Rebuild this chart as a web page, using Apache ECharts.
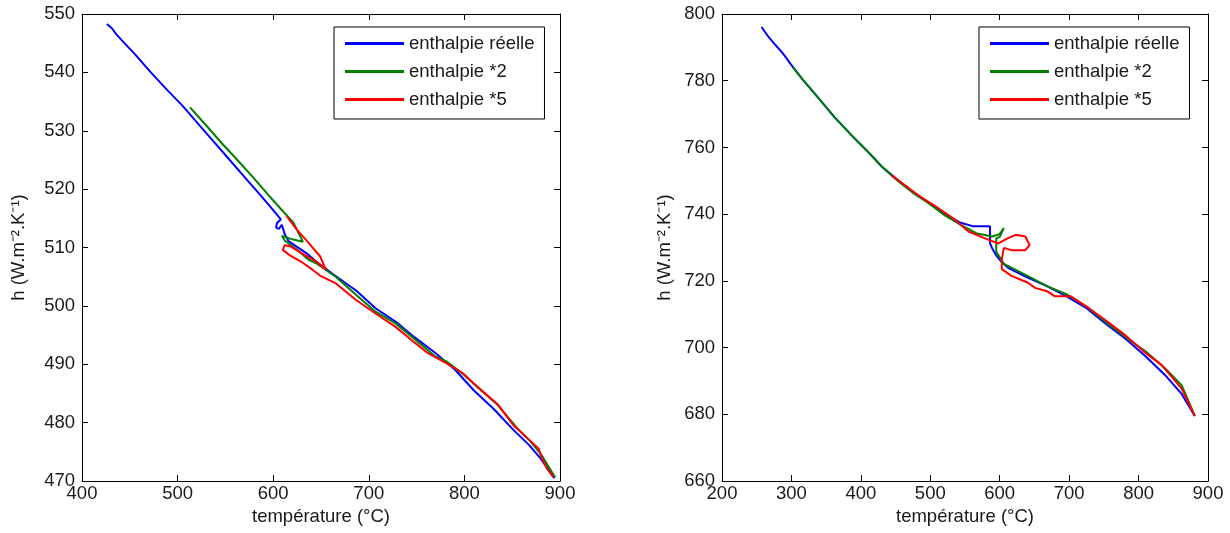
<!DOCTYPE html>
<html>
<head>
<meta charset="utf-8">
<script src="https://cdn.jsdelivr.net/npm/echarts@6/dist/echarts.min.js"></script>
<style>
html,body{margin:0;padding:0;background:#fff;}
#c{width:1230px;height:533px;}
</style>
</head>
<body>
<div id="c"></div>
<script>
// ---- data (température °C, h) ----
const seriesNames = ['enthalpie réelle', 'enthalpie *2', 'enthalpie *5'];
const xTitle = 'température (°C)';
const yTitle = 'h (W.m⁻².K⁻¹)';

// Left chart
const leftReelle = [[426,548.3],[431,547.6],[436,546.5],[441,545.6],[456,543.0],[472,540.0],[489,537.0],[505,534.3],[522,531.1],[538,528.1],[555,524.9],[571,521.9],[588,518.7],[600,516.4],[608,514.8],[604,514.2],[603,513.4],[606,513.2],[609,513.9],[612,512.3],[616,511.1],[635,509.0],[645,507.6],[662,505.5],[687,502.6],[707,499.6],[728,497.3],[748,494.6],[769,492.0],[790,489.1],[810,485.5],[831,482.3],[851,478.8],[868,476.1],[880,473.8],[894,470.5]];
const leftX2 = [[513,534.0],[530,530.9],[546,527.9],[563,524.9],[579,522.0],[596,518.8],[608,516.6],[621,514.3],[631,511.0],[620,511.4],[609,512.0],[612,511.2],[625,509.6],[637,507.9],[645,507.3],[666,504.9],[686,502.0],[707,499.0],[728,497.0],[748,494.3],[769,491.4],[781,490.5],[798,488.4],[814,486.0],[835,483.0],[855,479.1],[868,477.0],[880,474.6],[895,470.6]];
const leftX5 = [[614,515.4],[624,513.2],[637,510.8],[649,508.5],[655,506.2],[645,507.6],[630,509.0],[618,510.2],[612,510.4],[610,509.6],[618,508.6],[629,507.6],[641,506.2],[649,505.2],[666,503.8],[686,501.1],[707,498.7],[728,496.4],[748,493.7],[761,492.0],[781,490.2],[798,488.5],[814,486.1],[835,483.1],[851,479.6],[868,477.0],[878,475.5],[880,474.3],[886,472.2],[893,470.7]];

// Right chart
const rightReelle = [[257,796.1],[265,793.7],[277,790.7],[288,788.1],[299,785.0],[316,780.4],[339,774.8],[362,769.1],[385,764.0],[407,759.4],[430,754.3],[453,750.2],[475,746.6],[498,743.5],[521,739.9],[544,737.4],[561,736.4],[583,736.4],[586,736.4],[586,731.3],[589,729.8],[595,727.6],[603,725.6],[612,723.9],[640,721.0],[668,718.4],[697,715.3],[725,711.8],[753,707.1],[782,702.5],[810,697.4],[838,691.8],[862,686.1],[881,679.5]];
const rightX2 = [[302,784.0],[316,780.4],[339,774.8],[362,769.1],[385,764.0],[407,759.4],[430,754.3],[453,750.0],[475,746.4],[498,743.2],[521,739.6],[544,736.8],[566,734.3],[589,733.3],[600,734.0],[606,735.8],[600,733.2],[595,732.7],[595,728.7],[606,725.1],[640,721.5],[668,718.4],[697,715.9],[725,712.3],[753,707.6],[782,703.0],[810,698.9],[838,693.8],[862,688.7],[881,679.5]];
const rightX5 = [[444,751.7],[464,748.6],[487,745.0],[510,742.0],[532,738.9],[555,734.8],[578,732.8],[598,731.2],[612,732.8],[623,733.8],[637,733.3],[643,730.7],[637,729.2],[617,729.2],[606,729.9],[603,726.6],[603,723.5],[617,721.5],[640,719.5],[651,717.9],[668,716.9],[679,715.4],[702,715.4],[725,712.3],[753,708.1],[782,703.5],[810,698.4],[833,694.8],[850,690.7],[862,687.7],[881,679.5]];

const leftXRange = [400, 900, 100];
const leftYRange = [470, 550, 10];
const rightXRange = [200, 900, 100];
const rightYRange = [660, 800, 20];

const colors = ['#0000ff', '#008000', '#ff0000'];

// ---- chart ----
const FONT = 'Liberation Sans, Arial, sans-serif';
const FS = 18.5;
const TXT = '#1a1a1a';
const axLine = {show: true, lineStyle: {color: '#000', width: 1}};
const tick = {show: true, inside: true, length: 6, lineStyle: {color: '#000'}};

function xAxes(grid, r, nameGap) {
  return [
    {type: 'value', gridIndex: grid, position: 'bottom', min: r[0], max: r[1], interval: r[2],
     axisLine: axLine, axisTick: tick, splitLine: {show: false},
     axisLabel: {fontFamily: FONT, fontSize: FS, color: TXT, margin: 3},
     name: xTitle, nameLocation: 'middle', nameGap: nameGap,
     nameTextStyle: {fontFamily: FONT, fontSize: FS, color: TXT}},
    {type: 'value', gridIndex: grid, position: 'top', min: r[0], max: r[1], interval: r[2],
     axisLine: axLine, axisTick: tick, splitLine: {show: false}, axisLabel: {show: false}}
  ];
}
function yAxes(grid, r, nameGap) {
  return [
    {type: 'value', gridIndex: grid, position: 'left', min: r[0], max: r[1], interval: r[2],
     axisLine: axLine, axisTick: tick, splitLine: {show: false},
     axisLabel: {fontFamily: FONT, fontSize: FS, color: TXT, margin: 7},
     name: yTitle, nameLocation: 'middle', nameGap: nameGap, nameRotate: 90,
     nameTextStyle: {fontFamily: FONT, fontSize: FS, color: TXT}},
    {type: 'value', gridIndex: grid, position: 'right', min: r[0], max: r[1], interval: r[2],
     axisLine: axLine, axisTick: tick, splitLine: {show: false}, axisLabel: {show: false}}
  ];
}
function legend(left) {
  return {
    data: seriesNames, orient: 'vertical', left: left, top: 27,
    icon: 'rect', itemWidth: 59, itemHeight: 3, itemGap: 9,
    padding: [7, 10, 10, 11], borderColor: '#000', borderWidth: 1, backgroundColor: '#fff',
    selectedMode: false,
    textStyle: {fontFamily: FONT, fontSize: FS, color: TXT, lineHeight: 18}
  };
}
function line(name, data, xi, yi, color) {
  return {type: 'line', name: name, data: data, xAxisIndex: xi, yAxisIndex: yi,
          showSymbol: false, symbol: 'none', smooth: false, animation: false,
          lineStyle: {color: color, width: 2}, itemStyle: {color: color}};
}

const chart = echarts.init(document.getElementById('c'), null, {renderer: 'canvas'});
chart.setOption({
  backgroundColor: '#fff',
  animation: false,
  grid: [
    {left: 82, top: 14, width: 478, height: 467},
    {left: 722, top: 14, width: 486, height: 467}
  ],
  xAxis: [...xAxes(0, leftXRange, 23), ...xAxes(1, rightXRange, 23)],
  yAxis: [...yAxes(0, leftYRange, 54), ...yAxes(1, rightYRange, 48)],
  legend: [legend(334), legend(979)],
  series: [
    line(seriesNames[0], leftReelle, 0, 0, colors[0]),
    line(seriesNames[1], leftX2, 0, 0, colors[1]),
    line(seriesNames[2], leftX5, 0, 0, colors[2]),
    line(seriesNames[0], rightReelle, 2, 2, colors[0]),
    line(seriesNames[1], rightX2, 2, 2, colors[1]),
    line(seriesNames[2], rightX5, 2, 2, colors[2])
  ]
});
</script>
</body>
</html>
